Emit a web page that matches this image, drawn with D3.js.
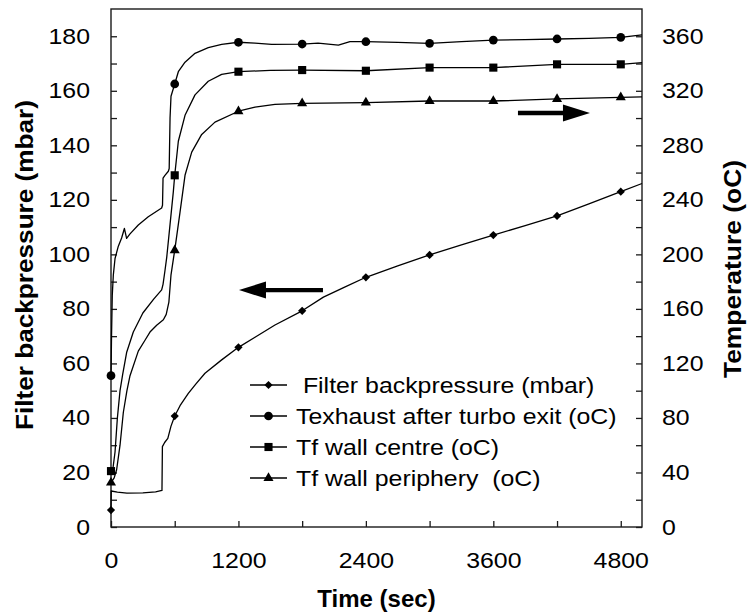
<!DOCTYPE html>
<html><head><meta charset="utf-8">
<script src="https://cdn.jsdelivr.net/npm/d3@7"></script>
<style>
body{margin:0;background:#fff}
svg text{font-family:"Liberation Sans",Arial,sans-serif;fill:#000}
</style>
</head><body>
<svg id="chart" width="750" height="614"></svg>
<script>
// ---------- data ----------
const xTickValues = [0, 600, 1200, 1800, 2400, 3000, 3600, 4200, 4800];
const xTickLabels = [0, 1200, 2400, 3600, 4800];
const leftTickValues = d3.range(0, 181, 10);
const leftTickLabels = [0, 20, 40, 60, 80, 100, 120, 140, 160, 180];
const rightTickValues = d3.range(0, 361, 20);
const rightTickLabels = [0, 40, 80, 120, 160, 200, 240, 280, 320, 360];
const markerTimes = [0, 600, 1200, 1800, 2400, 3000, 3600, 4200, 4800];

// Filter backpressure (mbar) - left axis
const backpressure = [
  [0,6.2],[2,13.2],[60,12.8],[150,12.4],[300,12.5],[420,12.9],[480,13.4],[484,29.5],
  [505,31],[535,32.5],[565,37],[600,40.7],[650,44.5],[728,49],[800,52.5],[885,56.4],
  [1042,61.3],[1200,65.9],[1356,69.6],[1544,74.1],[1800,79.3],[2000,84.3],[2200,88],
  [2400,91.6],[2700,95.8],[3000,99.8],[3300,103.5],[3600,107.1],[3900,110.5],
  [4200,114.1],[4500,118.5],[4800,123],[5000,126]
];
// Texhaust after turbo exit (oC) - right axis
const texhaust = [
  [0,111],[5,140],[12,170],[22,185],[38,197],[69,206],[100,212],[126,219],[147,211.8],
  [179,215],[257,221.5],[351,227.6],[477,234],[485,236],[490,256],[508,258],[540,261],
  [548,263],[556,300],[565,316],[600,325],[634,334],[697,341],[791,347.5],[916,351.6],
  [1042,354],[1200,355.6],[1356,355],[1513,354],[1800,354.3],[1950,355],[2141,353.5],
  [2250,356],[2400,356],[2700,355.5],[3000,354.8],[3300,356],[3600,357.2],[3900,357.5],
  [4200,358],[4500,358.5],[4800,359.2],[5000,361]
];
// Tf wall centre (oC) - right axis
const tfCentre = [
  [0,41],[20,44],[38,55],[60,80],[85,100],[110,112],[147,128],[210,143],[300,157],
  [400,167],[477,174],[490,178],[508,188],[525,198],[556,222],[587,246],[600,258],
  [634,283],[697,302],[791,317],[916,327],[1042,332],[1200,334],[1500,335],[1800,335.2],
  [2400,334.7],[3000,337],[3600,337],[4200,339.4],[4800,339.4],[5000,340.6]
];
// Tf wall periphery (oC) - right axis
const tfPeriphery = [
  [0,32.5],[30,36],[53,42],[85,60],[116,84],[150,100],[179,111],[257,129],[320,137],
  [367,143],[430,148],[493,152],[520,156],[545,165],[565,185],[590,198],[600,203],
  [650,231],[697,258],[760,275],[854,288],[979,297],[1200,305],[1356,308],[1544,310],
  [1800,310.8],[2400,311.3],[3000,312.5],[3600,312.5],[4200,314],[4800,315.2],[5000,315.6]
];

const seriesNames = [" Filter backpressure (mbar)", "Texhaust after turbo exit (oC)", "Tf wall centre (oC)", "Tf wall periphery  (oC)"];

// ---------- layout ----------
const svg = d3.select("#chart");
const L = 111, R = 642, T = 9, B = 527;
const x = d3.scaleLinear().domain([0, 5000]).range([L, R]);
const yL = d3.scaleLinear().domain([0, 190]).range([B, T]);
const yR = d3.scaleLinear().domain([0, 380]).range([B, T]);
const ink = "#1a1a1a";
const stretch = 1.13;
function widen(sel, f) {
  sel.each(function () {
    const w = this.getComputedTextLength();
    if (w > 0) d3.select(this).attr("textLength", w * f).attr("lengthAdjust", "spacingAndGlyphs");
  });
}

// axes
const fmt = (labels) => d => labels.includes(d) ? String(d) : "";
const gx = svg.append("g").attr("transform", `translate(0,${B})`)
  .call(d3.axisBottom(x).tickValues(xTickValues).tickSize(-6).tickPadding(25).tickFormat(fmt(xTickLabels)));
const gl = svg.append("g").attr("transform", `translate(${L},0)`)
  .call(d3.axisLeft(yL).tickValues(leftTickValues).tickSize(-6).tickPadding(21).tickFormat(fmt(leftTickLabels)));
const gr = svg.append("g").attr("transform", `translate(${R},0)`)
  .call(d3.axisRight(yR).tickValues(rightTickValues).tickSize(-6).tickPadding(20).tickFormat(fmt(rightTickLabels)));
[gx, gl, gr].forEach(g => {
  g.select(".domain").remove();
  g.selectAll(".tick line").attr("stroke", ink).attr("stroke-width", 1.3);
  g.selectAll(".tick text").attr("font-size", 22).attr("font-family", "Liberation Sans, Arial, sans-serif").attr("fill", "#000");
  widen(g.selectAll(".tick text"), stretch);
});

// frame
svg.append("rect").attr("x", L).attr("y", T).attr("width", R - L).attr("height", B - T)
  .attr("fill", "none").attr("stroke", ink).attr("stroke-width", 1.4);

// lines
const lineL = d3.line().x(d => x(d[0])).y(d => yL(d[1]));
const lineR = d3.line().x(d => x(d[0])).y(d => yR(d[1]));
const series = [
  {data: backpressure, line: lineL, y: yL, sym: "diamond"},
  {data: texhaust, line: lineR, y: yR, sym: "circle"},
  {data: tfCentre, line: lineR, y: yR, sym: "square"},
  {data: tfPeriphery, line: lineR, y: yR, sym: "triangle"}
];
const symPath = {
  diamond: d3.symbol().type(d3.symbolSquare).size(34)(),
  circle: d3.symbol().type(d3.symbolCircle).size(60)(),
  square: d3.symbol().type(d3.symbolSquare).size(66)(),
  triangle: d3.symbol().type(d3.symbolTriangle).size(44)()
};
const symRot = {diamond: 45, circle: 0, square: 0, triangle: 0};

series.forEach(s => {
  svg.append("path").datum(s.data).attr("d", s.line)
    .attr("fill", "none").attr("stroke", "#000").attr("stroke-width", 1.3).attr("stroke-linejoin", "round");
  const pts = markerTimes.map(t => s.data.find(d => d[0] === t)).filter(Boolean);
  svg.append("g").selectAll("path").data(pts).join("path")
    .attr("d", symPath[s.sym])
    .attr("transform", d => `translate(${x(d[0])},${s.y(d[1])}) rotate(${symRot[s.sym]})`)
    .attr("fill", "#000");
});

// arrows (positioned in data coordinates)
function arrow(x0, x1, yv, yScale) {
  const px0 = x(x0), px1 = x(x1), py = yScale(yv);
  const dir = Math.sign(px1 - px0);
  const headLen = 27, halfW = 8.5, thick = 2.2;
  const hb = px1 - dir * headLen;
  svg.append("path").attr("fill", "#000").attr("d",
    `M${px0},${py - thick}L${hb},${py - thick}L${hb},${py - halfW}L${px1},${py}L${hb},${py + halfW}L${hb},${py + thick}L${px0},${py + thick}Z`);
}
arrow(1996, 1205, 86.9, yL);
arrow(3832, 4510, 303.7, yR);

// legend
const legY0 = 385, legDy = 31;
const leg = svg.append("g");
series.forEach((s, i) => {
  const yy = legY0 + i * legDy;
  leg.append("line").attr("x1", 250).attr("x2", 287).attr("y1", yy).attr("y2", yy)
    .attr("stroke", "#000").attr("stroke-width", 1.3);
  leg.append("path").attr("d", symPath[s.sym])
    .attr("transform", `translate(268.5,${yy}) rotate(${symRot[s.sym]})`).attr("fill", "#000");
  const t = leg.append("text").attr("x", 296).attr("y", yy + 8)
    .attr("font-size", 22).style("white-space", "pre").text(seriesNames[i]);
  widen(t, stretch);
});

// axis titles
svg.append("text").attr("x", (L + R) / 2).attr("y", 607).attr("text-anchor", "middle")
  .attr("font-size", 24).attr("font-weight", "bold").text("Time (sec)");
svg.append("text").attr("transform", "translate(33,265) rotate(-90)").attr("text-anchor", "middle")
  .attr("font-size", 24).attr("font-weight", "bold")
  .attr("textLength", 330).attr("lengthAdjust", "spacingAndGlyphs")
  .text("Filter backpressure (mbar)");
svg.append("text").attr("transform", "translate(741,269) rotate(-90)").attr("text-anchor", "middle")
  .attr("font-size", 24).attr("font-weight", "bold")
  .attr("textLength", 218).attr("lengthAdjust", "spacingAndGlyphs")
  .text("Temperature (oC)");
</script>
</body></html>
